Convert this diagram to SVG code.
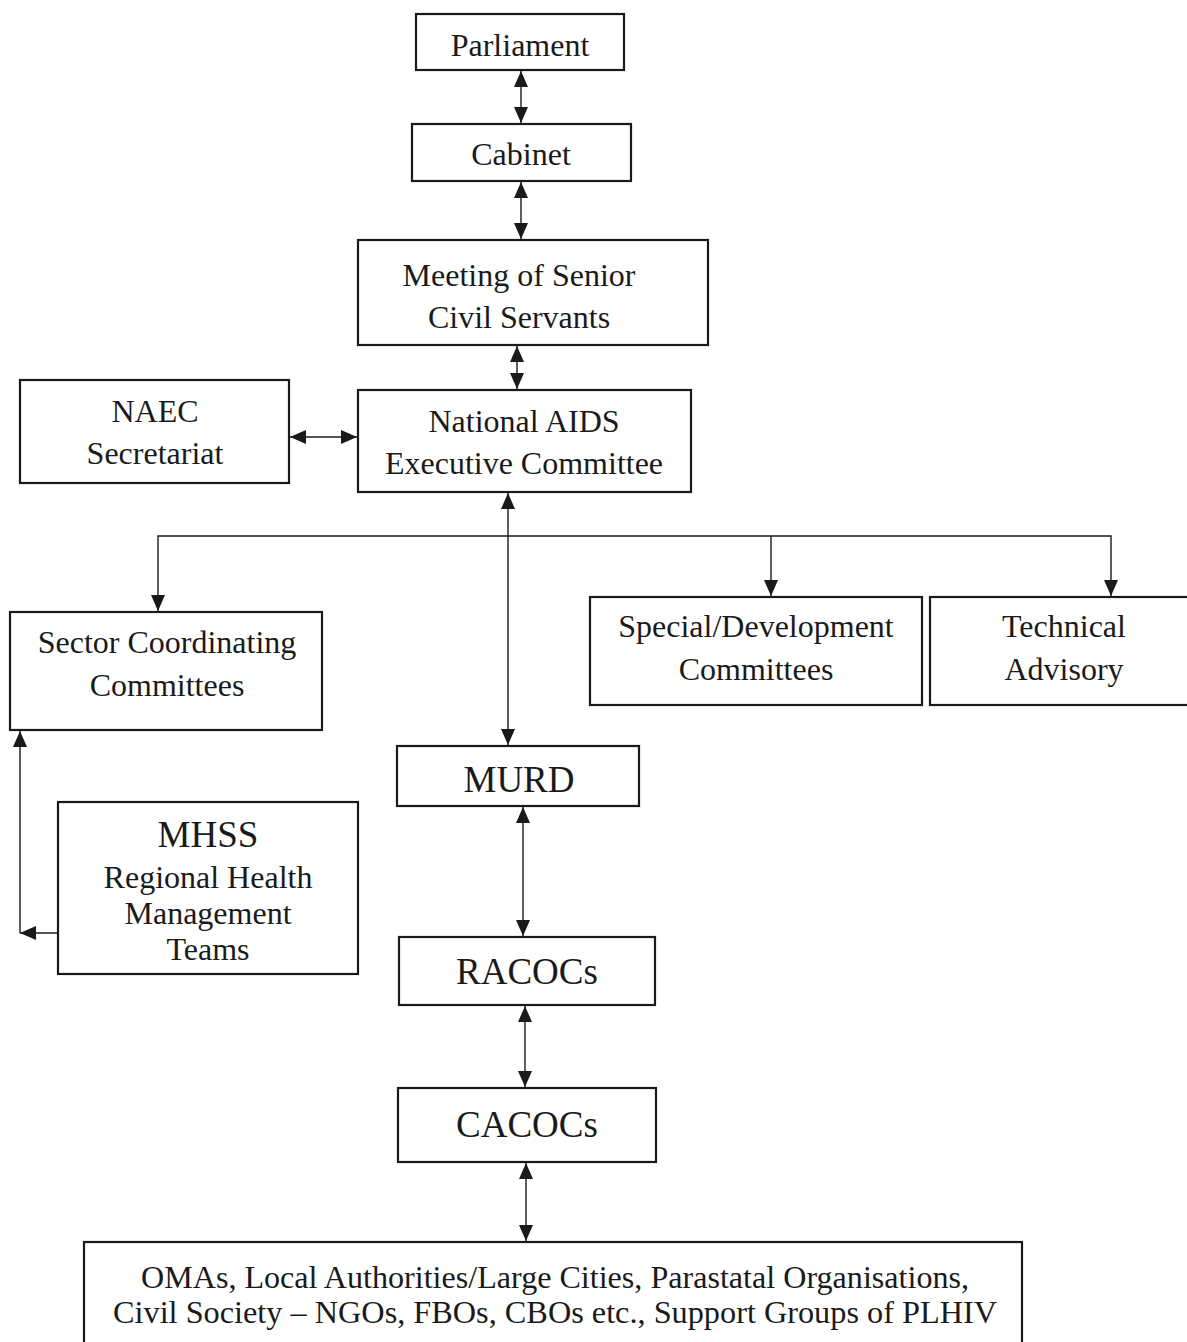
<svg xmlns="http://www.w3.org/2000/svg" width="1187" height="1342" viewBox="0 0 1187 1342">
<style>
  .box{fill:#fff;stroke:#1a1a1a;stroke-width:2.2}
  .t{font-family:"Liberation Serif","Times New Roman",serif;font-size:32px;fill:#1a1a1a;text-anchor:middle}
  .big{font-size:37px}
  .c{fill:none;stroke:#1a1a1a;stroke-width:1.4}
</style>
<defs>
  <marker id="ah" viewBox="0 0 16 14" markerWidth="16" markerHeight="14" refX="16" refY="7" orient="auto-start-reverse" markerUnits="userSpaceOnUse">
    <path d="M0,0 L16,7 L0,14 z" fill="#1a1a1a"/>
  </marker>
</defs>
<rect width="1187" height="1342" fill="#fff"/>
<g id="connectors">
  <line class="c" x1="521" y1="71" x2="521" y2="123" marker-start="url(#ah)" marker-end="url(#ah)"/>
  <line class="c" x1="521" y1="182" x2="521" y2="239" marker-start="url(#ah)" marker-end="url(#ah)"/>
  <line class="c" x1="517" y1="346" x2="517" y2="389" marker-start="url(#ah)" marker-end="url(#ah)"/>
  <line class="c" x1="290" y1="437" x2="357" y2="437" marker-start="url(#ah)" marker-end="url(#ah)"/>
  <line class="c" x1="508" y1="493" x2="508" y2="745" marker-start="url(#ah)" marker-end="url(#ah)"/>
  <polyline class="c" points="158,611 158,536 1111,536 1111,596" marker-start="url(#ah)" marker-end="url(#ah)"/>
  <line class="c" x1="771" y1="536" x2="771" y2="596" marker-end="url(#ah)"/>
  <line class="c" x1="523" y1="807" x2="523" y2="936" marker-start="url(#ah)" marker-end="url(#ah)"/>
  <line class="c" x1="525" y1="1006" x2="525" y2="1087" marker-start="url(#ah)" marker-end="url(#ah)"/>
  <line class="c" x1="526" y1="1163" x2="526" y2="1241" marker-start="url(#ah)" marker-end="url(#ah)"/>
  <line class="c" x1="20" y1="933" x2="20" y2="731" marker-end="url(#ah)"/>
  <line class="c" x1="57" y1="933" x2="20" y2="933" marker-end="url(#ah)"/>
</g>
<g id="parliament">
  <rect class="box" x="416" y="14" width="208" height="56"/>
  <text class="t" x="520" y="56">Parliament</text>
</g>
<g id="cabinet">
  <rect class="box" x="412" y="124" width="219" height="57"/>
  <text class="t" x="521" y="165">Cabinet</text>
</g>
<g id="meeting">
  <rect class="box" x="358" y="240" width="350" height="105"/>
  <text class="t" x="519" y="286">Meeting of Senior</text>
  <text class="t" x="519" y="328">Civil Servants</text>
</g>
<g id="naec-secretariat">
  <rect class="box" x="20" y="380" width="269" height="103"/>
  <text class="t" x="155" y="422">NAEC</text>
  <text class="t" x="155" y="464">Secretariat</text>
</g>
<g id="naec">
  <rect class="box" x="358" y="390" width="333" height="102"/>
  <text class="t" x="524" y="432">National AIDS</text>
  <text class="t" x="524" y="474">Executive Committee</text>
</g>
<g id="sector">
  <rect class="box" x="10" y="612" width="312" height="118"/>
  <text class="t" x="167" y="653">Sector Coordinating</text>
  <text class="t" x="167" y="696">Committees</text>
</g>
<g id="special">
  <rect class="box" x="590" y="597" width="332" height="108"/>
  <text class="t" x="756" y="637">Special/Development</text>
  <text class="t" x="756" y="680">Committees</text>
</g>
<g id="technical">
  <rect class="box" x="930" y="597" width="270" height="108"/>
  <text class="t" x="1064" y="637">Technical</text>
  <text class="t" x="1064" y="680">Advisory</text>
</g>
<g id="murd">
  <rect class="box" x="397" y="746" width="242" height="60"/>
  <text class="t big" x="519" y="792">MURD</text>
</g>
<g id="mhss">
  <rect class="box" x="58" y="802" width="300" height="172"/>
  <text class="t big" x="208" y="847">MHSS</text>
  <text class="t" x="208" y="888">Regional Health</text>
  <text class="t" x="208" y="924">Management</text>
  <text class="t" x="208" y="960">Teams</text>
</g>
<g id="racocs">
  <rect class="box" x="399" y="937" width="256" height="68"/>
  <text class="t big" x="527" y="984">RACOCs</text>
</g>
<g id="cacocs">
  <rect class="box" x="398" y="1088" width="258" height="74"/>
  <text class="t big" x="527" y="1137">CACOCs</text>
</g>
<g id="stakeholders">
  <rect class="box" x="84" y="1242" width="938" height="120"/>
  <text class="t" x="555" y="1288" textLength="828" lengthAdjust="spacingAndGlyphs">OMAs, Local Authorities/Large Cities, Parastatal Organisations,</text>
  <text class="t" x="555" y="1323" textLength="884" lengthAdjust="spacingAndGlyphs">Civil Society – NGOs, FBOs, CBOs etc., Support Groups of PLHIV</text>
</g>
</svg>
